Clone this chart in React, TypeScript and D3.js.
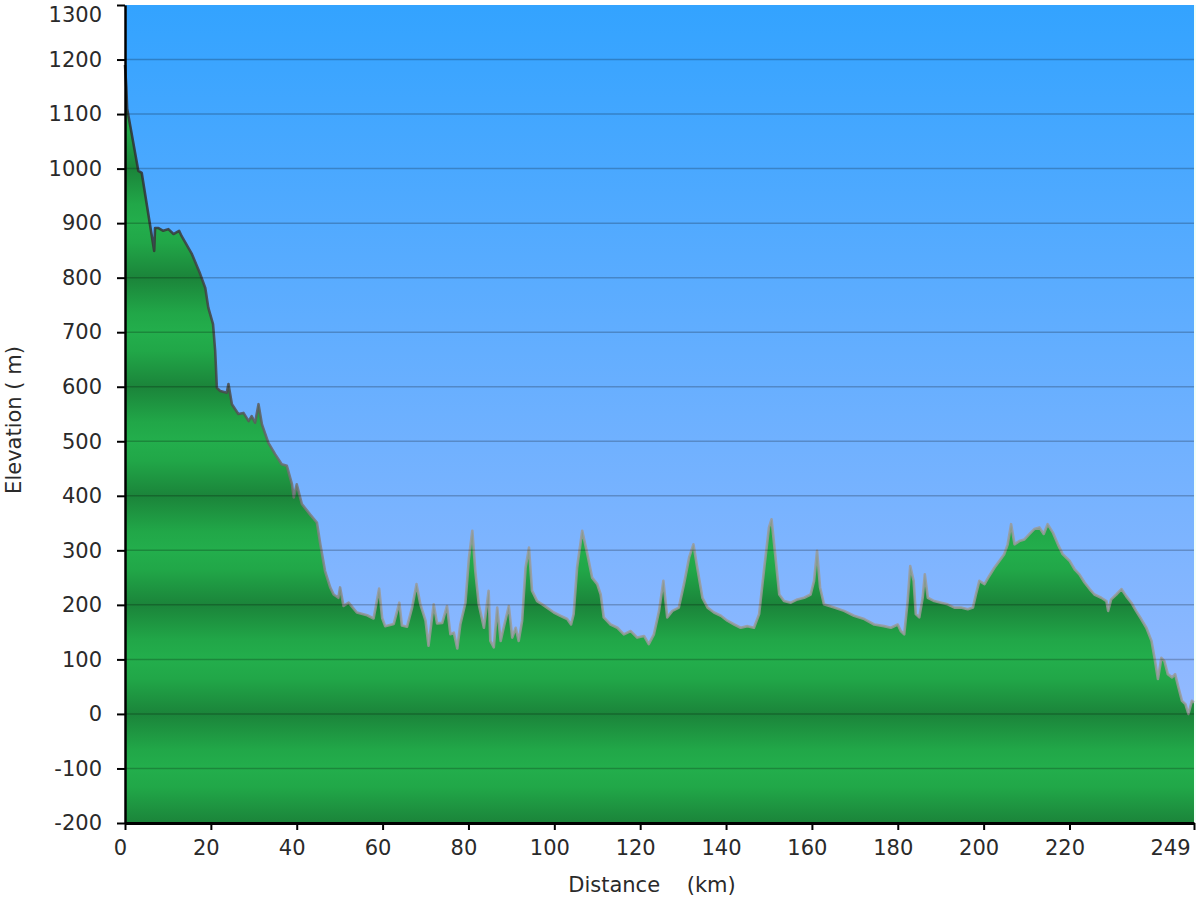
import React, { useEffect, useRef } from 'react';
import * as d3 from 'd3';

// Elevation profile (km along route, metres)
const distanceKm = [
  0, 0.3, 0.5, 3.1, 3.9, 6.8, 7.0, 7.8, 8.9, 10.1, 11.3, 12.6, 13.2, 15.6, 17.5, 18.7, 19.4, 20.5, 21.0, 21.4,
  21.8, 22.2, 23.7, 24.1, 24.9, 26.4, 27.6, 28.8, 29.5, 30.3, 31.1, 31.9, 33.4, 35.0, 36.5, 37.7, 38.9, 39.3, 40.0, 41.2,
  43.1, 44.7, 45.5, 46.6, 47.8, 48.6, 49.7, 50.1, 50.9, 52.1, 54.0, 56.4, 57.9, 59.2, 59.9, 60.6, 62.6, 63.9, 64.5, 65.7,
  66.9, 67.9, 68.8, 70.0, 70.7, 71.9, 72.7, 73.9, 75.0, 75.8, 76.6, 77.4, 78.1, 79.3, 80.1, 80.9, 81.6, 82.4, 83.6, 84.7,
  85.1, 85.9, 86.7, 87.5, 88.2, 89.4, 90.2, 91.0, 91.7, 92.5, 93.3, 94.1, 94.8, 96.0, 97.2, 98.3, 99.9, 101.4, 103.0, 103.9,
  104.5, 105.3, 106.5, 107.7, 108.8, 110.0, 110.8, 111.5, 113.1, 114.7, 116.2, 117.8, 119.3, 120.9, 122.0, 123.2, 124.4, 125.4, 126.3, 127.5,
  129.0, 130.2, 131.4, 132.4, 133.3, 134.5, 135.7, 137.2, 138.8, 140.3, 141.9, 143.4, 145.0, 146.5, 147.7, 148.9, 150.0, 150.6, 151.6, 152.4,
  153.5, 155.1, 156.6, 158.2, 159.7, 160.5, 161.2, 161.9, 162.8, 165.2, 167.5, 169.8, 172.2, 174.5, 176.8, 178.4, 180.0, 180.7, 181.5, 182.3,
  182.9, 183.7, 184.2, 185.0, 185.8, 186.3, 187.0, 188.5, 190.1, 191.6, 193.2, 194.7, 196.3, 197.5, 198.2, 199.0, 200.2, 201.3, 202.5, 203.7,
  204.8, 205.6, 206.4, 207.2, 208.3, 209.5, 210.7, 211.8, 213.0, 214.0, 214.9, 216.1, 217.3, 218.4, 220.0, 221.2, 222.3, 223.5, 224.7, 225.8,
  227.4, 228.6, 229.0, 229.7, 230.9, 232.1, 233.2, 234.4, 235.5, 236.7, 237.9, 239.1, 239.8, 240.6, 241.4, 242.1, 242.9, 243.9, 244.6, 245.4,
  246.2, 247.0, 247.7, 248.5, 249,
];
const elevationM = [
  1190, 1150, 1110, 996, 992, 849, 891, 891, 886, 889, 880, 886, 876, 843, 807, 781, 745, 715, 666, 598,
  595, 592, 589, 605, 568, 550, 552, 537, 546, 534, 568, 531, 497, 476, 458, 455, 421, 397, 421, 385,
  366, 351, 311, 262, 232, 219, 213, 232, 198, 204, 186, 181, 175, 230, 176, 161, 165, 204, 162, 160,
  196, 238, 201, 171, 125, 201, 166, 167, 198, 146, 149, 120, 164, 204, 285, 336, 262, 201, 158, 226,
  134, 122, 195, 134, 158, 198, 140, 158, 134, 171, 268, 305, 226, 207, 201, 195, 186, 180, 174, 164,
  183, 268, 336, 293, 250, 238, 219, 177, 164, 158, 146, 152, 140, 143, 128, 146, 189, 244, 177, 189,
  195, 238, 287, 311, 268, 213, 195, 186, 180, 171, 164, 158, 161, 158, 183, 268, 342, 357, 281, 219,
  207, 204, 210, 213, 219, 244, 299, 232, 201, 195, 189, 180, 174, 164, 161, 158, 164, 152, 146, 207,
  271, 244, 183, 177, 213, 256, 213, 207, 204, 201, 195, 195, 192, 195, 219, 244, 238, 253, 268, 281,
  293, 311, 348, 311, 317, 320, 330, 339, 342, 330, 348, 333, 311, 293, 281, 265, 256, 241, 229, 219,
  213, 207, 189, 210, 219, 229, 216, 204, 189, 174, 158, 134, 103, 64, 103, 97, 73, 67, 73, 48,
  24, 18, 0, 24, 21,
];

const elevationTicks = [-200, -100, 0, 100, 200, 300, 400, 500, 600, 700, 800, 900, 1000, 1100, 1200, 1300];
const gridValues = [-100, 0, 100, 200, 300, 400, 500, 600, 700, 800, 900, 1000, 1100, 1200];
const distanceTicks = [0, 20, 40, 60, 80, 100, 120, 140, 160, 180, 200, 220, 249];

const FONT = '"DejaVu Sans", Verdana, sans-serif';

const ElevationProfile: React.FC = () => {
  const ref = useRef<SVGSVGElement | null>(null);

  useEffect(() => {
    if (!ref.current) return;
    const svg = d3.select(ref.current);
    svg.selectAll('*').remove();

    const margin = { top: 5, right: 6, bottom: 77, left: 125 };
    const W = 1200;
    const H = 900;

    const x = d3.scaleLinear().domain([0, 249]).range([margin.left, W - margin.right]);
    const y = d3.scaleLinear().domain([-200, 1300]).range([H - margin.bottom, margin.top]);

    const points = distanceKm.map((d, i) => ({ d, e: elevationM[i] }));

    const defs = svg.append('defs');

    // sky
    const sky = defs.append('linearGradient')
      .attr('id', 'sky')
      .attr('gradientUnits', 'userSpaceOnUse')
      .attr('x1', 0).attr('x2', 0)
      .attr('y1', y(1300)).attr('y2', y(-200));
    sky.append('stop').attr('offset', 0).attr('stop-color', '#33a3ff');
    sky.append('stop').attr('offset', 0.5).attr('stop-color', '#6cb0ff');
    sky.append('stop').attr('offset', 1).attr('stop-color', '#a2bdff');

    // banded terrain: light at odd hundreds, dark at even hundreds
    const ground = defs.append('linearGradient')
      .attr('id', 'ground')
      .attr('gradientUnits', 'userSpaceOnUse')
      .attr('spreadMethod', 'reflect')
      .attr('x1', 0).attr('x2', 0)
      .attr('y1', y(100)).attr('y2', y(0));
    ground.append('stop').attr('offset', 0).attr('stop-color', '#23ae4c');
    ground.append('stop').attr('offset', 0.35).attr('stop-color', '#21a748');
    ground.append('stop').attr('offset', 1).attr('stop-color', '#1b843a');

    // outline goes from a dark line to a greyish haze
    const edge = defs.append('linearGradient')
      .attr('id', 'edge')
      .attr('gradientUnits', 'userSpaceOnUse')
      .attr('x1', x(0)).attr('x2', x(60))
      .attr('y1', 0).attr('y2', 0);
    edge.append('stop').attr('offset', 0).attr('stop-color', '#2e2e2e');
    edge.append('stop').attr('offset', 0.35).attr('stop-color', '#444444');
    edge.append('stop').attr('offset', 0.78).attr('stop-color', '#858585');
    edge.append('stop').attr('offset', 1).attr('stop-color', '#9a9a9a');

    svg.append('rect')
      .attr('x', x(0)).attr('y', y(1300))
      .attr('width', x(249) - x(0)).attr('height', y(-200) - y(1300))
      .attr('fill', 'url(#sky)');

    const area = d3.area<{ d: number; e: number }>()
      .x(p => x(p.d))
      .y0(y(-200))
      .y1(p => y(p.e));

    const line = d3.line<{ d: number; e: number }>()
      .x(p => x(p.d))
      .y(p => y(p.e));

    svg.append('path')
      .datum(points)
      .attr('d', area)
      .attr('fill', 'url(#ground)');

    svg.append('path')
      .datum(points)
      .attr('d', line)
      .attr('fill', 'none')
      .attr('stroke', 'url(#edge)')
      .attr('stroke-opacity', 0.85)
      .attr('stroke-width', 2.6)
      .attr('stroke-linejoin', 'round');

    // horizontal grid
    svg.append('g')
      .selectAll('line')
      .data(gridValues)
      .enter()
      .append('line')
      .attr('x1', x(0)).attr('x2', x(249))
      .attr('y1', d => y(d)).attr('y2', d => y(d))
      .attr('stroke', '#000')
      .attr('stroke-opacity', 0.22)
      .attr('stroke-width', 1.5);

    // light rim on the right edge
    svg.append('line')
      .attr('x1', x(249) + 1).attr('x2', x(249) + 1)
      .attr('y1', y(1300)).attr('y2', y(-200))
      .attr('stroke', '#e6fff0')
      .attr('stroke-opacity', 0.7)
      .attr('stroke-width', 1.5);

    const plain = (d: d3.NumberValue) => String(d);

    // y axis
    const yAxis = svg.append('g')
      .attr('transform', `translate(${x(0)},0)`)
      .call(d3.axisLeft(y).tickValues(elevationTicks).tickFormat(plain).tickSize(8).tickSizeOuter(0).tickPadding(15));
    yAxis.select('.domain').attr('stroke', '#000').attr('stroke-width', 2.5);
    yAxis.selectAll('.tick line').attr('stroke', '#000').attr('stroke-width', 2);
    yAxis.selectAll('.tick text')
      .attr('font-family', FONT)
      .attr('font-size', 21)
      .attr('fill', '#2a2a2a')
      .attr('y', (d: any) => (d === 1300 ? 9.5 : 0));

    // x axis
    const xAxis = svg.append('g')
      .attr('transform', `translate(0,${y(-200)})`)
      .call(d3.axisBottom(x).tickValues(distanceTicks).tickFormat(plain).tickSize(7).tickSizeOuter(0).tickPadding(10));
    xAxis.select('.domain').attr('stroke', '#000').attr('stroke-width', 3);
    xAxis.selectAll('.tick line').attr('stroke', '#000').attr('stroke-width', 2);
    xAxis.selectAll('.tick text')
      .attr('font-family', FONT)
      .attr('font-size', 21)
      .attr('fill', '#2a2a2a')
      .attr('text-anchor', (d: any) => (d === 249 ? 'end' : 'middle'))
      .attr('x', (d: any) => (d === 249 ? -4 : -5));
    svg.selectAll('g').attr('font-family', FONT);

    // axis titles
    svg.append('text')
      .attr('x', 652).attr('y', 892)
      .attr('text-anchor', 'middle')
      .attr('font-family', FONT)
      .attr('font-size', 21)
      .attr('fill', '#2a2a2a')
      .style('white-space', 'pre')
      .text('Distance    (km)');

    svg.append('text')
      .attr('transform', 'translate(21,420) rotate(-90)')
      .attr('text-anchor', 'middle')
      .attr('font-family', FONT)
      .attr('font-size', 21)
      .attr('fill', '#2a2a2a')
      .style('white-space', 'pre')
      .text('Elevation ( m)');
  }, []);

  return <svg ref={ref} width={1200} height={900} style={{ display: 'block' }} />;
};

const App: React.FC = () => (
  <div style={{ position: 'absolute', left: 0, top: 0, width: 1200, height: 900, background: '#fff' }}>
    <ElevationProfile />
  </div>
);

export default App;
